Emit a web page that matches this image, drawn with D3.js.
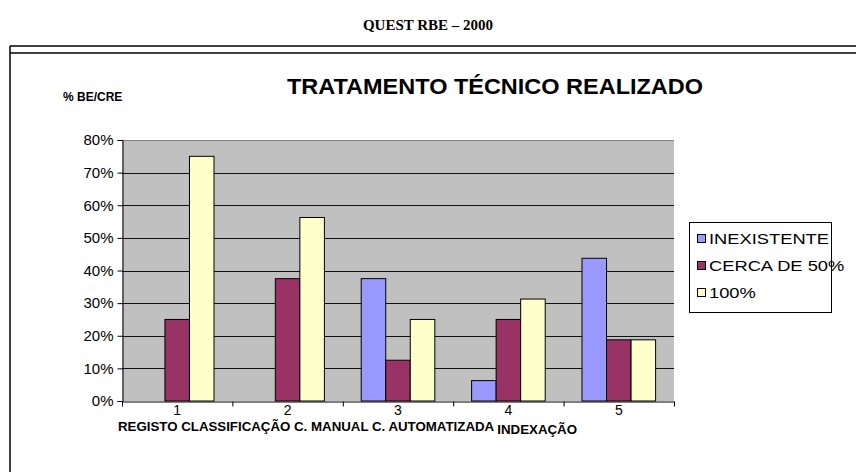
<!DOCTYPE html>
<html>
<head>
<meta charset="utf-8">
<script src="https://cdn.jsdelivr.net/npm/d3@7"></script>
<style>
  body { margin: 0; background: #fff; }
  svg { display: block; }
</style>
</head>
<body>
<div class="chart"></div>
<script>
// values (% of schools)
const categories = ["1", "2", "3", "4", "5"];
const categoryNames = ["REGISTO", "CLASSIFICAÇÃO", "C. MANUAL", "C. AUTOMATIZADA", "INDEXAÇÃO"];
const seriesNames = ["INEXISTENTE", "CERCA DE 50%", "100%"];
const inexistente = [0, 0, 37.5, 6.25, 43.75];
const cercaDe50 = [25, 37.5, 12.5, 25, 18.75];
const cem = [75, 56.25, 25, 31.25, 18.75];
const yTicks = [0, 10, 20, 30, 40, 50, 60, 70, 80];

const seriesValues = [inexistente, cercaDe50, cem];
const colors = ["#9999FF", "#993366", "#FFFFCC"];

const width = 856, height = 472;
const plot = {left: 122, right: 674, top: 140, bottom: 401};

const svg = d3.select(".chart").append("svg")
    .attr("width", width)
    .attr("height", height)
    .style("font-family", "'Liberation Sans', Arial, sans-serif");

// page heading
svg.append("text")
    .text("QUEST RBE – 2000")
    .attr("x", 428)
    .attr("y", 30)
    .attr("text-anchor", "middle")
    .style("font-family", "'Liberation Serif', 'Times New Roman', serif")
    .style("font-weight", "bold")
    .style("font-size", "15px");

// frame of the chart object
const frame = svg.append("g").attr("stroke", "#000").attr("stroke-width", 1.5);
frame.append("line").attr("x1", 10).attr("x2", width).attr("y1", 46).attr("y2", 46);
frame.append("line").attr("x1", 10).attr("x2", width).attr("y1", 53).attr("y2", 53);
frame.append("line").attr("x1", 10).attr("x2", 10).attr("y1", 46).attr("y2", height);

svg.append("text")
    .text("TRATAMENTO TÉCNICO REALIZADO")
    .attr("x", 495)
    .attr("y", 94)
    .attr("text-anchor", "middle")
    .attr("textLength", 416)
    .attr("lengthAdjust", "spacingAndGlyphs")
    .style("font-weight", "bold")
    .style("font-size", "22px");

svg.append("text")
    .text("% BE/CRE")
    .attr("x", 63)
    .attr("y", 101)
    .style("font-weight", "bold")
    .style("font-size", "12px");

const x = d3.scaleBand()
    .domain(categories)
    .range([plot.left, plot.right])
    .paddingInner(0)
    .paddingOuter(0);

const xs = d3.scaleBand()
    .domain(seriesNames)
    .range([0, x.bandwidth()])
    .paddingInner(0)
    .paddingOuter(0.75);

const y = d3.scaleLinear()
    .domain([0, 80])
    .range([plot.bottom, plot.top]);

// plot area
svg.append("rect")
    .attr("x", plot.left)
    .attr("y", plot.top)
    .attr("width", plot.right - plot.left)
    .attr("height", plot.bottom - plot.top)
    .attr("fill", "#C0C0C0");

svg.append("g")
    .selectAll("line")
    .data(yTicks.filter(d => d > 0))
    .enter()
    .append("line")
    .attr("x1", plot.left)
    .attr("x2", plot.right)
    .attr("y1", d => Math.round(y(d)) + 0.5)
    .attr("y2", d => Math.round(y(d)) + 0.5)
    .attr("stroke", d => d === 80 ? "#808080" : "#111")
    .attr("stroke-width", 1);

// bars
const rows = [];
categories.forEach((c, i) => {
    seriesNames.forEach((s, j) => {
        rows.push({cat: c, series: s, value: seriesValues[j][i], color: colors[j]});
    });
});

svg.append("g")
    .selectAll("rect")
    .data(rows.filter(d => d.value > 0))
    .enter()
    .append("rect")
    .attr("x", d => x(d.cat) + xs(d.series))
    .attr("y", d => y(d.value))
    .attr("width", xs.bandwidth())
    .attr("height", d => y(0) - y(d.value))
    .attr("fill", d => d.color)
    .attr("stroke", "#000")
    .attr("stroke-width", 1);

// y axis
const yAxis = d3.axisLeft(y)
    .tickValues(yTicks)
    .tickFormat(d => d + "%")
    .tickSize(5)
    .tickPadding(4);

svg.append("g")
    .attr("class", "axis y-axis")
    .attr("transform", "translate(" + (plot.left + 0.5) + ",0)")
    .call(yAxis)
    .call(g => g.select(".domain").attr("stroke", "#000"))
    .call(g => g.selectAll("text")
        .style("font-family", "'Liberation Sans', Arial, sans-serif")
        .style("font-size", "15px")
        .attr("fill", "#000"));

// x axis with ticks between categories
const xEdges = d3.scaleLinear().domain([0, categories.length]).range([plot.left, plot.right]);
const xAxis = d3.axisBottom(xEdges)
    .tickValues(d3.range(categories.length + 1))
    .tickFormat("")
    .tickSize(5)
    .tickSizeOuter(0);

svg.append("g")
    .attr("class", "axis x-axis")
    .attr("transform", "translate(0," + (plot.bottom + 0.5) + ")")
    .call(xAxis)
    .call(g => g.select(".domain").attr("stroke", "#000"));

svg.append("g")
    .selectAll("text")
    .data(categories)
    .enter()
    .append("text")
    .text(d => d)
    .attr("x", d => x(d) + x.bandwidth() / 2)
    .attr("y", 415)
    .attr("text-anchor", "middle")
    .style("font-size", "14px");

const names = svg.append("text")
    .attr("x", 118)
    .attr("y", 431)
    .attr("textLength", 459)
    .attr("lengthAdjust", "spacingAndGlyphs")
    .style("font-family", "'Liberation Sans Narrow', 'Arial Narrow', 'Liberation Sans', sans-serif")
    .style("font-weight", "bold")
    .style("font-size", "13px");

names.selectAll("tspan")
    .data(categoryNames)
    .enter()
    .append("tspan")
    .attr("dy", (d, i) => i === categoryNames.length - 1 ? 3 : 0)
    .text((d, i) => (i > 0 ? " " : "") + d);

// legend
const legend = svg.append("g");

legend.append("rect")
    .attr("x", 689.5)
    .attr("y", 222.5)
    .attr("width", 142)
    .attr("height", 90)
    .attr("fill", "#fff")
    .attr("stroke", "#000");

legend.selectAll(".legend-color")
    .data(seriesNames)
    .enter()
    .append("rect")
    .attr("class", "legend-color")
    .attr("x", 697.5)
    .attr("y", (d, i) => 234.5 + i * 27)
    .attr("width", 8)
    .attr("height", 8)
    .attr("fill", (d, i) => colors[i])
    .attr("stroke", "#000");

legend.selectAll(".legend-text")
    .data(seriesNames)
    .enter()
    .append("text")
    .attr("class", "legend-text")
    .attr("x", 709)
    .attr("y", (d, i) => 244 + i * 27)
    .style("font-size", "15px")
    .text(d => d)
    .each(function() {
        // the original legend text is drawn a bit wider than the font
        const w = this.getComputedTextLength();
        d3.select(this)
            .attr("textLength", w * 1.22)
            .attr("lengthAdjust", "spacingAndGlyphs");
    });
</script>
</body>
</html>
